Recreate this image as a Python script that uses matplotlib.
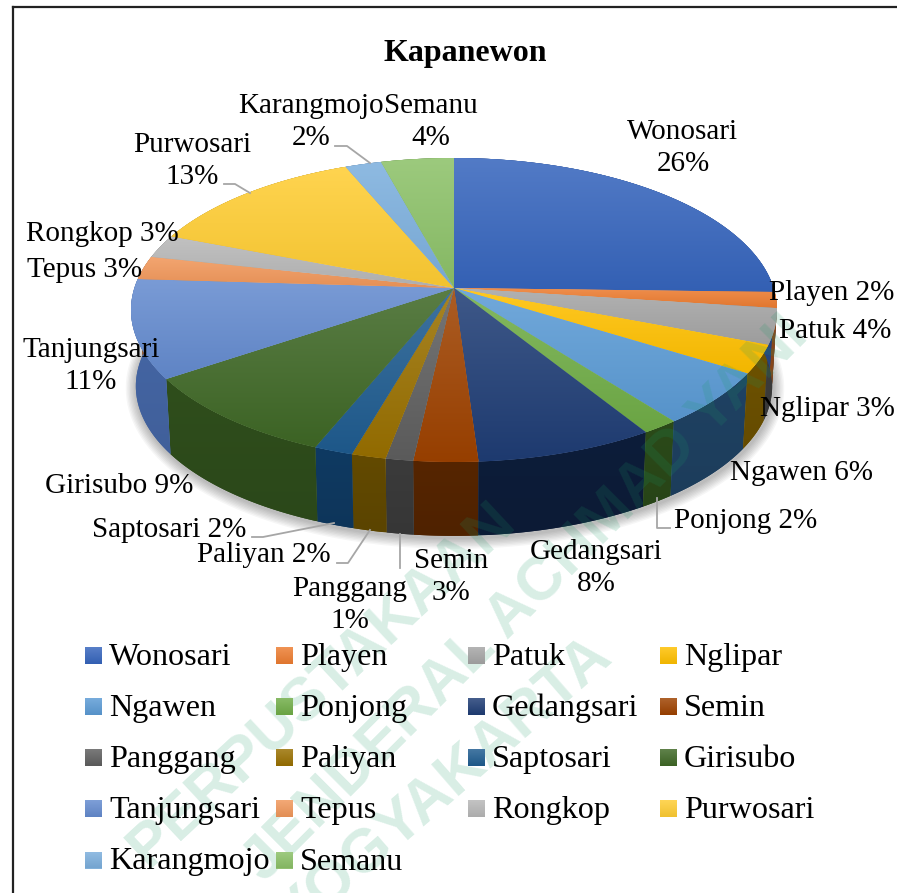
import matplotlib
matplotlib.use('Agg')
import matplotlib.pyplot as plt
from matplotlib.colors import to_rgb
from matplotlib.patches import Polygon
import numpy as np

# Data
districts = ['Wonosari', 'Playen', 'Patuk', 'Nglipar', 'Ngawen', 'Ponjong',
             'Gedangsari', 'Semin', 'Panggang', 'Paliyan', 'Saptosari', 'Girisubo',
             'Tanjungsari', 'Tepus', 'Rongkop', 'Purwosari', 'Karangmojo', 'Semanu']
shares = [25.5, 1.7, 3.8, 3.0, 5.7, 1.6, 7.8, 2.8, 1.2, 1.5, 1.7, 9.4,
          10.5, 2.5, 2.5, 12.8, 2.1, 4.2]
percent_labels = ['26%', '2%', '4%', '3%', '6%', '2%', '8%', '3%', '1%', '2%', '2%', '9%',
                  '11%', '3%', '3%', '13%', '2%', '4%']

# Styles
colors = ['#3665BD', '#ED7D31', '#A5A5A5', '#FFC000', '#5B9BD5', '#70AD47',
          '#1F3D75', '#9E4200', '#5F5F5F', '#997000', '#1F5C90', '#3F6826',
          '#648BCF', '#F1975A', '#B7B7B7', '#FFCD33', '#7CAFDD', '#8CC168']
wall_colors = ['#2A4A88', '#8F4A1C', '#3E3E3E', '#6E5200', '#1F4263', '#2B4A19',
               '#0D1D3A', '#562500', '#3B3B3B', '#634A00', '#0F3A62', '#2F4E1C',
               '#4668A8', '#A06030', '#777777', '#AA8820', '#55789A', '#5E8245']

# label centres in pixels, same order as districts
label_pos = [(683, 148), (832, 293), (835, 331), (827, 409), (801, 473), (746, 521),
             (596, 568), (451, 577), (350, 605), (264, 555), (169, 530), (119, 486),
             (91, 366), (85, 270), (102, 234), (192, 161), (311, 122), (431, 122)]
two_line = ['Wonosari', 'Gedangsari', 'Semin', 'Panggang', 'Tanjungsari', 'Purwosari',
            'Karangmojo', 'Semanu']

leaders = [[(335, 146), (347, 146), (370, 163)],
           [(224, 184), (235, 184), (250, 193)],
           [(252, 537), (263, 537), (334, 523)],
           [(337, 563), (348, 563), (370, 530)],
           [(400, 534), (400, 568)],
           [(657, 498), (657, 528), (670, 528)]]

SERIF = 'Liberation Serif'
CX, CY = 454, 288
K = 0.1447
RX, RY = 319.6, 148.8
DEPTH = 76.5
BOTTOM_SCALE = 0.985


def project(theta, cy=CY, scale=1.0):
    # circle -> screen, theta clockwise from 12 o'clock; nearer side drawn bigger
    u, v = np.sin(theta), np.cos(theta)
    w = 1 + K * v
    return CX + scale * RX * u / w, cy - scale * RY * v / w


def gradient_fill(ax, xs, ys, top, bottom, zorder):
    pts = np.column_stack([xs, ys])
    poly = Polygon(pts, closed=True, facecolor=np.mean([top, bottom], axis=0),
                   edgecolor='none', zorder=zorder)
    ax.add_patch(poly)
    grad = np.linspace(0, 1, 64)[:, None, None]
    img = np.array(top)[None, None, :] * (1 - grad) + np.array(bottom)[None, None, :] * grad
    im = ax.imshow(img, extent=(xs.min(), xs.max(), ys.max(), ys.min()), aspect='auto',
                   interpolation='bilinear', zorder=zorder)
    im.set_clip_path(poly)


def tint(c, f):
    c = np.array(to_rgb(c))
    return tuple(c + (1 - c) * f) if f > 0 else tuple(c * (1 + f))


fig = plt.figure(figsize=(8.97, 8.93), dpi=100)
ax = fig.add_axes([0, 0, 1, 1])

# soft shadow under the pie
t = np.linspace(0, 2 * np.pi, 400)
sx, sy = project(t, CY + DEPTH, BOTTOM_SCALE)
for lw in np.arange(16, 0, -2):
    ax.plot(sx + 1, sy + 2, color='black', alpha=0.035, lw=lw, zorder=1)

edges = np.concatenate([[0], np.cumsum(shares)]) / np.sum(shares) * 2 * np.pi

# side walls, back to front
for i in np.argsort(-np.abs(np.cos((edges[:-1] + edges[1:]) / 2) - 1)):
    th = np.linspace(edges[i], edges[i + 1], 60)
    x1, y1 = project(th)
    x2, y2 = project(th[::-1], CY + DEPTH, BOTTOM_SCALE)
    c = to_rgb(wall_colors[i])
    gradient_fill(ax, np.r_[x1, x2], np.r_[y1, y2], c, tint(c, -0.08), 2)

# top surface
for i in range(len(shares)):
    th = np.linspace(edges[i], edges[i + 1], 80)
    x, y = project(th)
    xs, ys = np.r_[CX, x], np.r_[CY, y]
    gradient_fill(ax, xs, ys, tint(colors[i], 0.14), tint(colors[i], -0.05), 3)

# watermark
wm = dict(family='Liberation Sans', weight='bold', color=(0.10, 0.60, 0.40), alpha=0.17,
          rotation_mode='anchor', ha='center', va='center', fontsize=44, zorder=4)
ax.text(323, 685, 'PERPUSTAKAAN', rotation=43, **wm)
ax.text(527, 600, 'JENDERAL ACHMAD YANI', rotation=45, **wm)
ax.text(445, 788, 'YOGYAKARTA', rotation=41, **wm)

# leader lines
for pts in leaders:
    ax.plot(*zip(*pts), color='#A6A6A6', lw=1.3, zorder=5)

# data labels
for name, pct, (x, y) in zip(districts, percent_labels, label_pos):
    sep = '\n' if name in two_line else ' '
    ax.text(x, y, name + sep + pct, family=SERIF, fontsize=21, ha='center', va='center',
            linespacing=1.27, color='black', zorder=6)

ax.text(465, 53, 'Kapanewon', family=SERIF, fontsize=23, weight='bold', ha='center',
        va='center', zorder=6)

# legend, filled row by row
col_x = [85, 276, 468, 660]
row_y = [655.5, 706.5, 757.5, 808.5, 860]
for i, name in enumerate(districts):
    x, y = col_x[i % 4], row_y[i // 4]
    box = np.array([x, x + 17, x + 17, x])
    gradient_fill(ax, box, np.array([y - 8.5, y - 8.5, y + 8.5, y + 8.5]),
                  tint(colors[i], 0.17), tint(colors[i], -0.06), 6)
    ax.text(x + 24, y + 9.5, name, family=SERIF, fontsize=23.1, ha='left', va='baseline', zorder=6)

# frame of the screenshot, only top and left are visible
ax.plot([13, 13], [7, 893], color='#222222', lw=1.6, zorder=7)
ax.plot([13, 897], [7, 7], color='#222222', lw=1.6, zorder=7)

ax.set_xlim(0, 897)
ax.set_ylim(893, 0)
ax.axis('off')

fig.savefig('out.png', dpi=100)
